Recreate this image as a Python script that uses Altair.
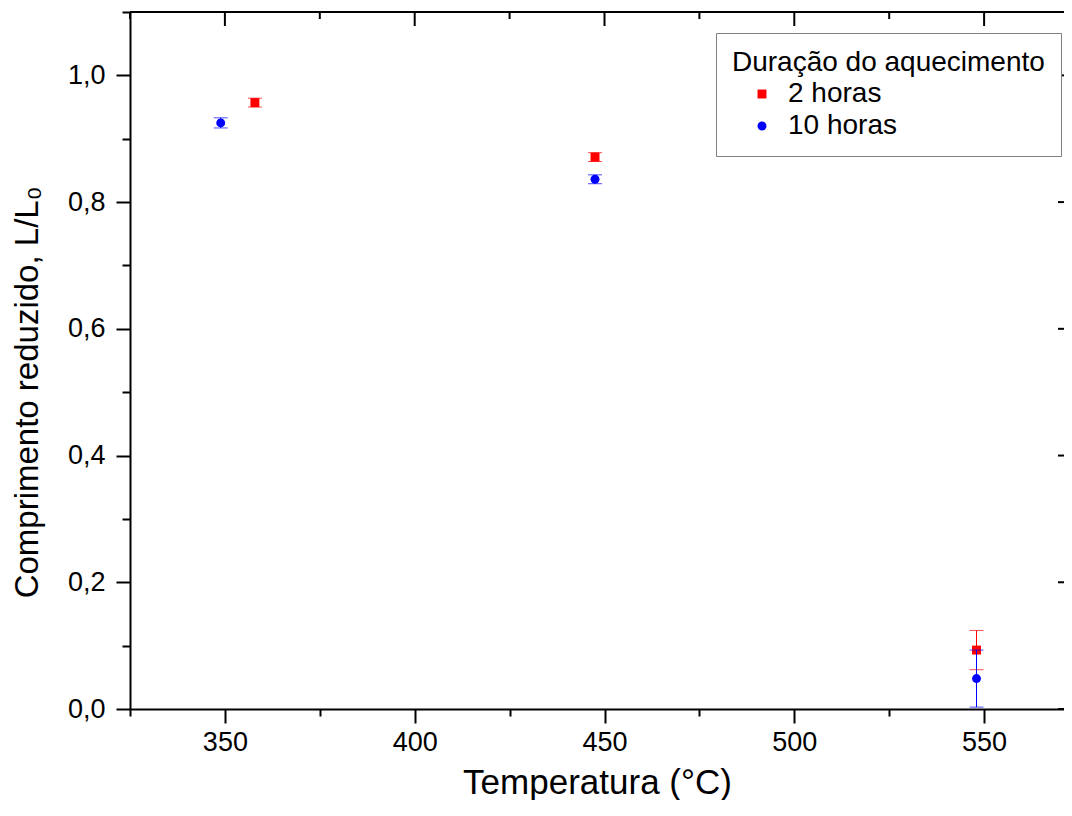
import altair as alt
import pandas as pd

# ---- data ----
series = ["2 horas", "10 horas"]
temp_2h = [357.9, 447.5, 548.0]
len_2h = [0.957, 0.871, 0.093]
err_2h = [0.007, 0.007, 0.031]
temp_10h = [348.9, 447.5, 548.0]
len_10h = [0.925, 0.836, 0.048]
err_10h = [0.008, 0.007, 0.045]

x_major = [350, 400, 450, 500, 550]
x_minor = [325, 375, 425, 475, 525]
y_major = [0.0, 0.2, 0.4, 0.6, 0.8, 1.0]
y_minor = [0.1, 0.3, 0.5, 0.7, 0.9, 1.1]

rows = []
for s, t, v, e in [(series[0], temp_2h, len_2h, err_2h), (series[1], temp_10h, len_10h, err_10h)]:
    for ti, vi, ei in zip(t, v, e):
        rows.append({"serie": s, "temp": ti, "val": vi, "lo": vi - ei, "hi": vi + ei})
df = pd.DataFrame(rows)

top_df = pd.DataFrame({"v": x_major + x_minor, "major": [1] * len(x_major) + [0] * len(x_minor)})
right_df = pd.DataFrame({"v": y_major + y_minor, "major": [1] * len(y_major) + [0] * len(y_minor)})

PX_PER_UNIT = 949 / 250.0      # horizontal scale of the reference
W, H = 934, 697                 # visible plot area (right frame edge lies past the picture)
FONT = "Liberation Sans"

xscale = alt.Scale(domain=[325, 325 + W / PX_PER_UNIT], nice=False, zero=False)
yscale = alt.Scale(domain=[0, 1.1], nice=False, zero=False)

xaxis = alt.Axis(
    values=sorted(x_major + x_minor),
    tickSize={"condition": {"test": "datum.value % 50 == 0", "value": 14}, "value": 7},
    tickWidth=2, tickColor="black",
    domain=True, domainColor="black", domainWidth=2, grid=False,
    labelExpr="datum.value % 50 == 0 ? datum.label : ''",
    labelFont=FONT, labelFontSize=27, labelColor="black", labelPadding=6,
    title="Temperatura (°C)", titleFont=FONT, titleFontSize=35, titleFontWeight="normal",
    titleColor="black", titleY=84, titleBaseline="alphabetic",
)
yaxis = alt.Axis(
    values=sorted(y_major + y_minor),
    tickSize={"condition": {"test": "round(datum.value*10) % 2 == 0", "value": 14}, "value": 8},
    tickWidth=2, tickColor="black",
    domain=True, domainColor="black", domainWidth=2, grid=False,
    labelExpr="round(datum.value*10) % 2 == 0 ? replace(format(datum.value, '.1f'), '.', ',') : ''",
    labelFont=FONT, labelFontSize=27, labelColor="black", labelPadding=11,
    title="Comprimento reduzido, L/L₀", titleFont=FONT, titleFontSize=33, titleFontWeight="normal",
    titleColor="black", titleX=-93, titleY=380, titleBaseline="alphabetic",
)

def X(field):
    return alt.X(field, type="quantitative", scale=xscale, axis=xaxis)

def Y(field):
    return alt.Y(field, type="quantitative", scale=yscale, axis=yaxis)

legend = alt.Legend(
    orient="none", legendX=586, legendY=21, title="Duração do aquecimento",
    titleFont=FONT, titleFontSize=28, titleFontWeight="normal", titleColor="black", titleLimit=600,
    labelFont=FONT, labelFontSize=28, labelColor="black", labelLimit=400,
    strokeColor="#808080", fillColor="white", padding=16,
    symbolSize=80, symbolOffset=16, labelOffset=12, rowPadding=4, titlePadding=3,
    symbolStrokeWidth=0,
)
colors = {"2 horas": "#ff0000", "10 horas": "#0000ff"}
color = alt.Color("serie:N", scale=alt.Scale(domain=series, range=[colors[s] for s in series]), legend=legend)
shape = alt.Shape("serie:N", scale=alt.Scale(domain=series, range=["square", "circle"]), legend=legend)

layers = []
for s in series:
    base = alt.Chart(df).transform_filter(alt.datum.serie == s)
    c = colors[s]
    layers.append(base.mark_rule(strokeWidth=1, color=c).encode(x=X("temp"), y=Y("lo"), y2="hi"))
    layers.append(base.mark_tick(orient="horizontal", size=14, thickness=1, color=c).encode(x=X("temp"), y=Y("lo")))
    layers.append(base.mark_tick(orient="horizontal", size=14, thickness=1, color=c).encode(x=X("temp"), y=Y("hi")))
    layers.append(base.mark_point(filled=True, opacity=1, size=80, strokeWidth=0).encode(
        x=X("temp"), y=Y("val"), color=color, shape=shape))

# top frame line and inward ticks on the top and right frame edges
top = alt.Chart(top_df)
layers.append(top.mark_rule(color="black", strokeWidth=2).encode(
    y=alt.value(0), x=alt.value(0), x2=alt.value(W)))
layers.append(top.transform_filter("datum.major == 1").mark_rule(color="black", strokeWidth=2).encode(
    x=X("v"), y=alt.value(0), y2=alt.value(14)))
layers.append(top.transform_filter("datum.major == 0").mark_rule(color="black", strokeWidth=2).encode(
    x=X("v"), y=alt.value(0), y2=alt.value(7)))
right = alt.Chart(right_df)
layers.append(right.transform_filter("datum.major == 1").mark_rule(color="black", strokeWidth=2).encode(
    y=Y("v"), x=alt.value(W - 6), x2=alt.value(W)))

chart = alt.layer(*layers).properties(
    width=W, height=H,
    autosize=alt.AutoSizeParams(type="none"),
    padding={"left": 122, "top": 4, "right": 0, "bottom": 91},
    background="white",
).configure_view(stroke="transparent", strokeWidth=0)

chart.save("out.html", embed_options={"renderer": "svg", "actions": False})
